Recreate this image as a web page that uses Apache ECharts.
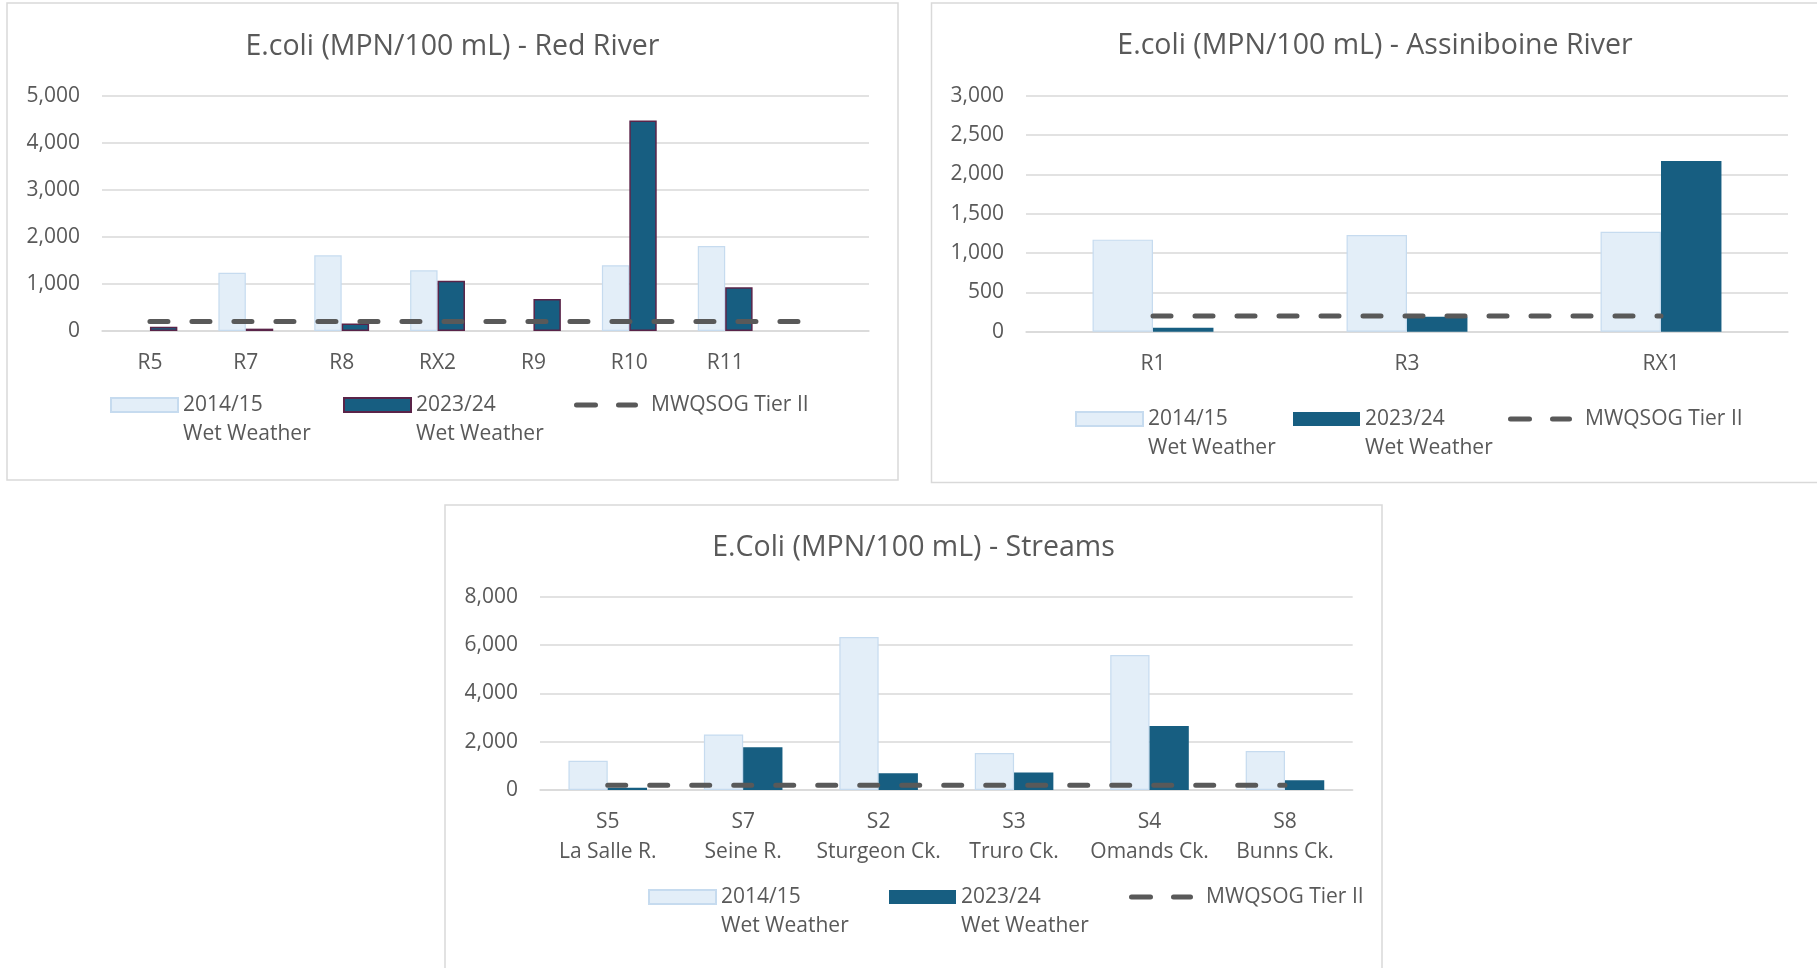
<!DOCTYPE html>
<html><head><meta charset="utf-8">
<script src="https://cdn.jsdelivr.net/npm/echarts@6/dist/echarts.min.js"></script>
<style>html,body{margin:0;padding:0;background:#fff;}#c{width:1817px;height:968px;}</style>
</head><body><div id="c"></div>
<script>
// ---------- data ----------
const redCategories = ['R5', 'R7', 'R8', 'RX2', 'R9', 'R10', 'R11', ''];
const red2014 = [null, 1240, 1610, 1290, null, 1400, 1810, null];
const red2023 = [90, 50, 160, 1070, 680, 4480, 930, null];
const redTier = [200, 200, 200, 200, 200, 200, 200, 200];

const assCategories = ['R1', 'R3', 'RX1'];
const ass2014 = [1170, 1230, 1270];
const ass2023 = [50, 190, 2170];
const assTier = [200, 200, 200];

const streamCodes = ['S5', 'S7', 'S2', 'S3', 'S4', 'S8'];
const streamNames = ['La Salle R.', 'Seine R.', 'Sturgeon Ck.', 'Truro Ck.', 'Omands Ck.', 'Bunns Ck.'];
const stream2014 = [1210, 2300, 6330, 1530, 5590, 1610];
const stream2023 = [90, 1770, 690, 720, 2650, 400];
const streamTier = [200, 200, 200, 200, 200, 200];

const redAxis = { min: 0, max: 5000, interval: 1000 };
const assAxis = { min: 0, max: 3000, interval: 500 };
const streamAxis = { min: 0, max: 8000, interval: 2000 };

const titles = ['E.coli (MPN/100 mL) - Red River', 'E.coli (MPN/100 mL) - Assiniboine River', 'E.Coli (MPN/100 mL) - Streams'];
const legendText = { a: '2014/15\nWet Weather', b: '2023/24\nWet Weather', c: 'MWQSOG Tier II' };

// ---------- styles ----------
const FONT = '"Open Sans", sans-serif';
const TXT = '#595959';
const GRID = '#d9d9d9';
const LIGHT = { color: '#E3EEF8', borderColor: '#C6DBEF', borderWidth: 1.2 };
const DARK = { color: '#175E81' };
const DARK_RED = { color: '#175E81', borderColor: '#5A2449', borderWidth: 1.5 };
const LINE = { color: '#595959', width: 5, type: [18, 24], cap: 'round' };
const DASH_ICON = 'path://M2.5,0 H21.5 A2.5,2.5 0 0 1 21.5,5 H2.5 A2.5,2.5 0 0 1 2.5,0 Z M44.5,0 H61.5 A2.5,2.5 0 0 1 61.5,5 H44.5 A2.5,2.5 0 0 1 44.5,0 Z';

const chart = echarts.init(document.getElementById('c'), null, { renderer: 'canvas' });

function xAxis(gi, cats, fmt) {
  return {
    type: 'category', gridIndex: gi, data: cats,
    axisLine: { lineStyle: { color: GRID, width: 1.5 } },
    axisTick: { show: false },
    axisLabel: { color: TXT, fontFamily: FONT, fontSize: 21, lineHeight: 30, margin: 17, interval: 0, formatter: fmt }
  };
}
function yAxis(gi, ax) {
  return {
    type: 'value', gridIndex: gi, min: ax.min, max: ax.max, interval: ax.interval,
    axisLine: { show: false }, axisTick: { show: false },
    splitLine: { lineStyle: { color: GRID, width: 1.5 } },
    axisLabel: { color: TXT, fontFamily: FONT, fontSize: 21, margin: 22,
      formatter: v => v.toLocaleString('en-US') }
  };
}
function bar(name, gi, data, style, w) {
  return { name, type: 'bar', xAxisIndex: gi, yAxisIndex: gi, data, itemStyle: style,
    barWidth: w, barGap: '0%', z: 2 };
}
function tier(name, gi, data) {
  return { name, type: 'line', xAxisIndex: gi, yAxisIndex: gi, data, symbol: 'none',
    lineStyle: LINE, itemStyle: { color: LINE.color, borderWidth: 0 }, z: 5 };
}
function legend(name, left, iconCenter, isLine) {
  const l = {
    data: [name], left, padding: 0, selectedMode: false,
    textStyle: { color: TXT, fontFamily: FONT, fontSize: 21, lineHeight: 29 }
  };
  if (isLine) {
    l.icon = DASH_ICON; l.itemWidth = 64; l.itemHeight = 5;
    l.top = iconCenter - 14.5;
    l.formatter = () => legendText.c;
    l.textStyle.padding = [0, 0, 0, 8];
  } else {
    l.icon = 'rect'; l.itemWidth = 67; l.itemHeight = 14;
    l.top = iconCenter - 43.5;
    l.formatter = n => '\n' + legendText[n.slice(-1)];
  }
  return l;
}
function title(text, cx, cy) {
  return { text, left: cx, top: cy, textAlign: 'center', textVerticalAlign: 'middle', padding: 0,
    textStyle: { color: TXT, fontFamily: FONT, fontSize: 28.5, fontWeight: 'normal' } };
}

const option = {
  animation: false,
  backgroundColor: '#fff',
  title: [title(titles[0], 452.5, 47), title(titles[1], 1375, 45.5), title(titles[2], 913.5, 547.5)],
  grid: [
    { left: 102, top: 96, width: 767, height: 235 },
    { left: 1026, top: 95.7, width: 762, height: 236 },
    { left: 540, top: 596.7, width: 812.7, height: 193.3 }
  ],
  xAxis: [
    xAxis(0, redCategories),
    xAxis(1, assCategories),
    xAxis(2, streamCodes, (v, i) => v + '\n' + streamNames[i])
  ],
  yAxis: [yAxis(0, redAxis), yAxis(1, assAxis), yAxis(2, streamAxis)],
  legend: [
    legend('red-a', 110, 405, false), legend('red-b', 343, 405, false), legend('red-c', 574, 405, true),
    legend('ass-a', 1075, 419, false), legend('ass-b', 1293, 419, false), legend('ass-c', 1508, 419, true),
    legend('str-a', 648, 897, false), legend('str-b', 889, 897, false), legend('str-c', 1129, 897, true)
  ],
  series: [
    bar('red-a', 0, red2014, LIGHT, '28.6%'), bar('red-b', 0, red2023, DARK_RED, '28.6%'), tier('red-c', 0, redTier),
    bar('ass-a', 1, ass2014, LIGHT, '23.8%'), bar('ass-b', 1, ass2023, DARK, '23.8%'), tier('ass-c', 1, assTier),
    bar('str-a', 2, stream2014, LIGHT, '29%'), bar('str-b', 2, stream2023, DARK, '29%'), tier('str-c', 2, streamTier)
  ],
  graphic: [
    { type: 'rect', shape: { x: 7, y: 3, width: 891, height: 477 }, style: { fill: 'none', stroke: GRID, lineWidth: 1.5 }, silent: true },
    { type: 'rect', shape: { x: 931.5, y: 3, width: 900, height: 479.5 }, style: { fill: 'none', stroke: GRID, lineWidth: 1.5 }, silent: true },
    { type: 'rect', shape: { x: 445, y: 505, width: 937, height: 500 }, style: { fill: 'none', stroke: GRID, lineWidth: 1.5 }, silent: true }
  ]
};
chart.setOption(option);
</script>
</body></html>
